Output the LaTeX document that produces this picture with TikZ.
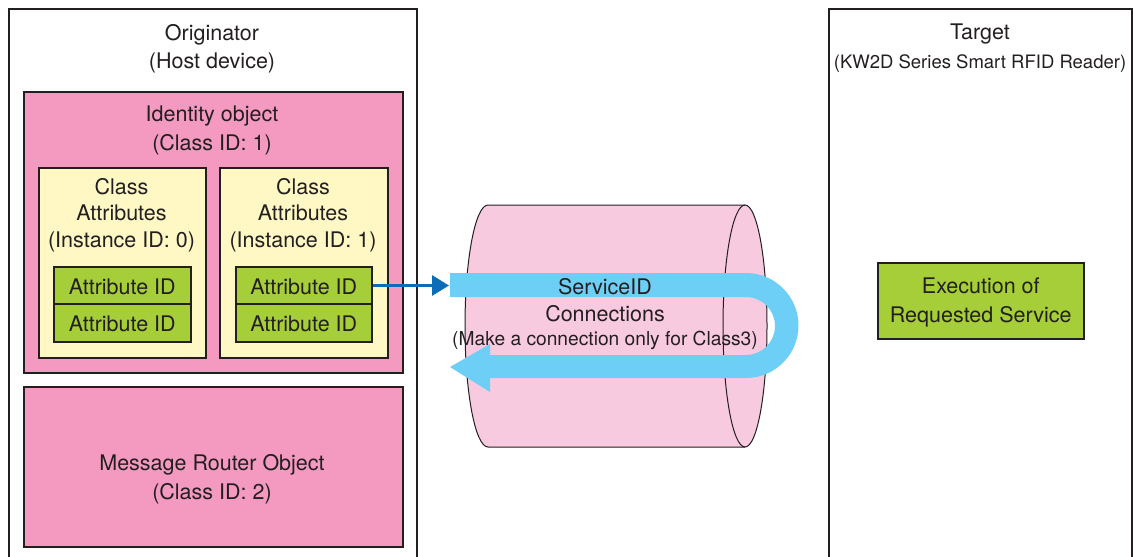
\documentclass[tikz,border=0pt]{standalone}
\usepackage{fontspec}
\setmainfont{TeX Gyre Heros}
\usetikzlibrary{arrows.meta}
\definecolor{ink}{HTML}{231F20}
\definecolor{pinkA}{HTML}{F49AC1}
\definecolor{pinkL}{HTML}{F8CADF}
\definecolor{yel}{HTML}{FFF8C4}
\definecolor{grn}{HTML}{A6CE39}
\definecolor{lblue}{HTML}{6DCFF6}
\definecolor{dblue}{HTML}{0B6DB7}
\tikzset{
  lbl/.style={font=\fontsize{21.5}{28}\selectfont, text=ink, align=center, inner sep=0pt, yshift=-1.5pt},
  outerbox/.style={draw=ink, line width=2pt, inner sep=0pt, anchor=north west},
  pinkbox/.style={draw=ink, fill=pinkA, line width=1.5pt, inner sep=0pt, anchor=north west},
  yelbox/.style={draw=ink, fill=yel, line width=1.5pt, inner sep=0pt, anchor=north west},
  grnbox/.style={draw=ink, fill=grn, line width=1.5pt, inner sep=0pt, anchor=north west},
}
\begin{document}
\begin{tikzpicture}[x=1pt,y=-1pt]
\useasboundingbox (0,0) rectangle (1133,557);
% containers
\node[outerbox, minimum width=408pt, minimum height=570pt] (orig) at (8,8) {};
\node[outerbox, minimum width=303pt, minimum height=570pt] (targ) at (828,8) {};
\node[lbl] (origlbl) at (212,47) {Originator\\(Host device)};
\node[lbl, font=\fontsize{21.5}{29}\selectfont] (targlbl) at (980,47) {Target\\{\fontsize{18.5}{29}\selectfont(KW2D Series Smart RFID Reader)}};
% identity object
\node[pinkbox, minimum width=379pt, minimum height=281pt] (ident) at (23,91) {};
\node[lbl, font=\fontsize{21.5}{29}\selectfont] (identlbl) at (212,128.5) {Identity object\\(Class ID: 1)};
\node[yelbox, minimum width=167pt, minimum height=190pt] (ca0) at (38,167) {};
\node[yelbox, minimum width=168pt, minimum height=190pt] (ca1) at (219,167) {};
\node[lbl, font=\fontsize{21.5}{26.5}\selectfont] (ca0lbl) at (121.5,213.5) {Class\\Attributes\\(Instance ID: 0)};
\node[lbl, font=\fontsize{21.5}{26.5}\selectfont] (ca1lbl) at (303,213.5) {Class\\Attributes\\(Instance ID: 1)};
\node[grnbox, minimum width=137pt, minimum height=37pt] (g01) at (53,266) {};
\node[grnbox, minimum width=137pt, minimum height=38pt] (g02) at (53,303) {};
\node[grnbox, minimum width=136pt, minimum height=37pt] (g11) at (235,266) {};
\node[grnbox, minimum width=136pt, minimum height=38pt] (g12) at (235,303) {};
\node[lbl] (g01l) at (g01.center) {Attribute ID};
\node[lbl] (g02l) at (g02.center) {Attribute ID};
\node[lbl] (g11l) at (g11.center) {Attribute ID};
\node[lbl] (g12l) at (g12.center) {Attribute ID};
% message router
\node[pinkbox, minimum width=379pt, minimum height=160pt] (msgr) at (23,386) {};
\node[lbl, font=\fontsize{21.5}{29}\selectfont] (msgrlbl) at (212,477.5) {Message Router Object\\(Class ID: 2)};
% target execution
\node[grnbox, minimum width=206pt, minimum height=76pt] (exec) at (877,262) {};
\node[lbl, font=\fontsize{21.5}{29}\selectfont] (execlbl) at (exec.center) {Execution of\\Requested Service};
% cylinder
\fill[pinkL] (488,205) -- (745,205) arc(-90:90:22 and 121) -- (488,447) arc(90:270:23 and 121) -- cycle;
\draw[ink, line width=1pt] (745,205) -- (488,205) arc(270:90:23 and 121) -- (745,447);
\draw[ink, line width=1pt] (745,326) ellipse (22 and 121);
% U-turn arrow
\fill[lblue] (450,273) -- (746,273) arc(-90:90:52.5) -- (490,378) -- (490,392) -- (450,367)
  -- (490,344) -- (490,355) -- (746,355) arc(90:-90:29) -- (450,297) -- cycle;
\coordinate (bandstart) at (449,285.5);
\draw[dblue, line width=3pt, -{Triangle[length=17pt,width=20pt]}] (g11.east |- bandstart) -- (bandstart);
% texts on connection
\node[lbl] (svc) at (605,285) {ServiceID};
\node[lbl] (conn) at (605,312) {Connections};
\node[lbl, font=\fontsize{19.2}{26}\selectfont] (make) at (605,338.5) {(Make a connection only for Class3)};
\end{tikzpicture}
\end{document}
